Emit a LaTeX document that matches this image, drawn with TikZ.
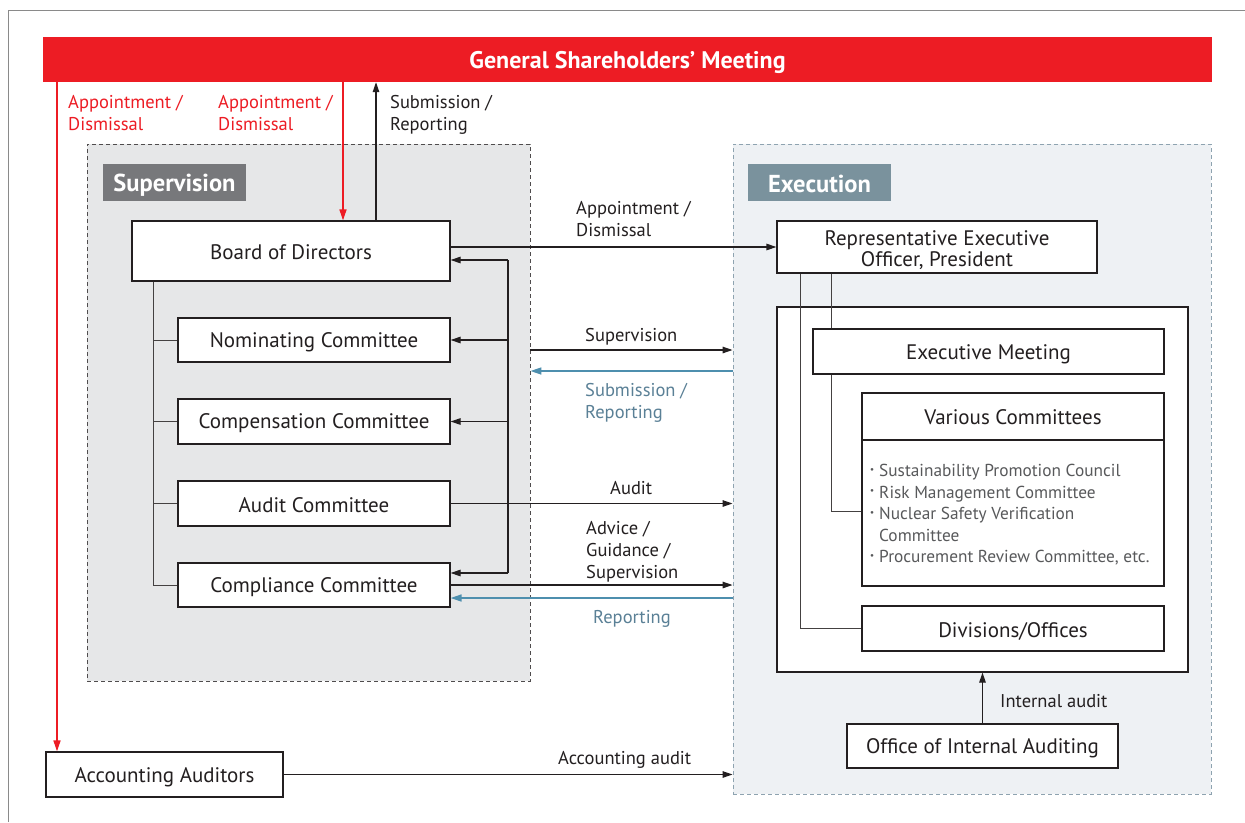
\documentclass[tikz,border=0pt]{standalone}
\usepackage{fontspec}
\setmainfont{PT Sans}
\usetikzlibrary{arrows.meta,positioning}
\definecolor{ink}{HTML}{231F20}
\definecolor{gsmred}{HTML}{ED1C24}
\definecolor{supfill}{HTML}{E6E7E8}
\definecolor{supdark}{HTML}{77787B}
\definecolor{exefill}{HTML}{EEF1F4}
\definecolor{exedark}{HTML}{7A929D}
\definecolor{exeborder}{HTML}{8EA3B0}
\definecolor{bluearr}{HTML}{4E8FAE}
\definecolor{bluetxt}{HTML}{5A8096}
\definecolor{listgray}{HTML}{58595B}
\definecolor{framegray}{HTML}{8A8A8A}
\newcommand\dnby[2]{\raisebox{-#1}[\height][\depth]{#2}}
\newcommand\bul{\makebox[10pt][l]{\raisebox{0.5pt}{\scalebox{1.3}{·}}}}
\tikzset{
  orgbox/.style={draw=ink, line width=1.2pt, fill=white, inner sep=0pt, text=ink,
     font=\fontsize{21}{21}\selectfont, align=center},
  arr/.style={draw=ink, line width=1.2pt, -{Triangle[length=10pt,width=6.5pt]}},
  barr/.style={draw=bluearr, line width=1.6pt, -{Triangle[length=11pt,width=7pt]}},
  rarr/.style={draw=gsmred, line width=1.6pt, -{Triangle[length=11pt,width=7pt]}},
  tline/.style={draw=ink!85, line width=1pt},
  lbl/.style={anchor=north west, inner sep=0pt, align=left, text=ink,
     font=\fontsize{18.5}{22}\selectfont},
  tag/.style={inner sep=0pt, text=white, font=\fontsize{24.5}{26}\selectfont\bfseries}
}
\begin{document}
\begin{tikzpicture}[x=1pt,y=-1pt]
\path[fill=white] (0,0) rectangle (1245,822);
\useasboundingbox (0,0) rectangle (1245,822);
% frame
\draw[framegray, line width=1pt] (8,822) -- (8,10) -- (1245,10);
% regions
\node[draw=ink!80, dash pattern=on 4pt off 3pt, line width=0.9pt, fill=supfill,
      minimum width=443pt, minimum height=537pt, inner sep=0pt] (SupA) at (308.5,412.5) {};
\node[draw=exeborder, dash pattern=on 4pt off 3pt, line width=0.9pt, fill=exefill,
      minimum width=478pt, minimum height=650pt, inner sep=0pt] (ExeA) at (972,469) {};
\node[tag, fill=supdark, minimum width=143pt, minimum height=37pt] (SupT) at (174.5,182.5) {\dnby{2.5pt}{Supervision}};
\node[tag, fill=exedark, minimum width=143pt, minimum height=37pt] (ExeT) at (819.5,182.5) {\dnby{1.5pt}{Execution}};
% GSM bar
\node[fill=gsmred, minimum width=1169pt, minimum height=45pt, inner sep=0pt, text=white,
      font=\fontsize{24}{26}\selectfont\bfseries] (GSM) at (627.5,59.5) {\dnby{2.5pt}{General Shareholders’ Meeting}};
% supervision boxes
\node[orgbox, minimum width=318pt, minimum height=60pt] (Board) at (291,251) {\dnby{1pt}{Board of Directors}};
\node[orgbox, minimum width=272pt, minimum height=44pt] (Nom) at (314,340) {\dnby{2pt}{Nominating Committee}};
\node[orgbox, minimum width=272pt, minimum height=45pt] (Comp) at (314,421.5) {\dnby{2pt}{Compensation Committee}};
\node[orgbox, minimum width=272pt, minimum height=45pt] (Aud) at (314,503.5) {\dnby{1.5pt}{Audit Committee}};
\node[orgbox, minimum width=272pt, minimum height=44pt] (Compl) at (314,585) {\dnby{2pt}{Compliance Committee}};
% execution boxes
\node[orgbox, minimum width=320pt, minimum height=52pt] (Rep) at (937,247) {\dnby{3pt}{\parbox{300pt}{\centering Representative Executive\\Officer, President}}};
\node[draw=ink, line width=1.2pt, fill=white, minimum width=411pt, minimum height=365pt, inner sep=0pt] (Inner) at (982.5,489.5) {};
\node[orgbox, minimum width=351pt, minimum height=45pt] (ExM) at (988.5,351.5) {\dnby{2.5pt}{Executive Meeting}};
\node[orgbox, minimum width=302pt, minimum height=193pt] (Var) at (1013,489.5) {};
\node[inner sep=0pt, text=ink, font=\fontsize{21}{21}\selectfont] (VarT) at (1013,417.5) {Various Committees};
\draw[draw=ink, line width=1.2pt] (Var.west |- 0,440) -- (Var.east |- 0,440);
\node[anchor=north west, inner sep=0pt, align=left, text=listgray,
      font=\fontsize{17.3}{21.5}\selectfont] (VarL) at (869,464)
  {\bul Sustainability Promotion Council\\
   \bul Risk Management Committee\\
   \bul Nuclear Safety Verification\\
   \hspace*{10pt}Committee\\
   \bul Procurement Review Committee, etc.};
\node[orgbox, minimum width=302pt, minimum height=45pt] (Div) at (1013,628.5) {\dnby{2.5pt}{Divisions/Offices}};
\node[orgbox, minimum width=271pt, minimum height=44pt] (OIA) at (982.5,746) {\dnby{2pt}{Office of Internal Auditing}};
\node[orgbox, minimum width=237pt, minimum height=45pt] (Acc) at (164.5,774.5) {\dnby{2.5pt}{Accounting Auditors}};
% coordinates
\coordinate (brT) at (508,260);
\coordinate (brB) at (508,573);
\coordinate (tl) at (153,0);
\coordinate (ySup) at (0,350);
\coordinate (ySub) at (0,371);
% GSM connectors
\draw[rarr] ([xshift=-107.5pt]Acc.north |- GSM.south) -- ([xshift=-107.5pt]Acc.north);
\draw[rarr] ([xshift=52pt]Board.north |- GSM.south) -- ([xshift=52pt]Board.north);
\draw[arr] ([xshift=85pt]Board.north) -- ([xshift=85pt]Board.north |- GSM.south);
% board tree
\draw[tline] (Board.south -| tl) |- (Compl.west);
\draw[tline] (Nom.west -| tl) -- (Nom.west);
\draw[tline] (Comp.west -| tl) -- (Comp.west);
\draw[tline] (Aud.west -| tl) -- (Aud.west);
% bracket
\draw[draw=ink, line width=1.2pt] (brT) -- (brB);
\draw[arr] (brT) -- (brT -| Board.east);
\draw[arr] (Nom.east -| brT) -- (Nom.east);
\draw[arr] (Comp.east -| brT) -- (Comp.east);
\draw[arr] (brB) -- (brB -| Compl.east);
% cross arrows
\draw[arr] (Rep.west -| Board.east) -- (Rep.west);
\draw[arr] (SupA.east |- ySup) -- (ExeA.west |- ySup);
\draw[barr] (ExeA.west |- ySub) -- (SupA.east |- ySub);
\draw[arr] (Aud.east) -- (Aud.east -| ExeA.west);
\draw[arr] (Compl.east) -- (Compl.east -| ExeA.west);
\draw[barr] ([yshift=-13pt]Compl.east -| ExeA.west) -- ([yshift=-13pt]Compl.east);
\draw[arr] (Acc.east) -- (Acc.east -| ExeA.west);
% execution tree
\draw[tline] ([xshift=-137pt]Rep.south) |- (Div.west);
\draw[tline] ([xshift=-106pt]Rep.south) -- ([xshift=-106pt]Rep.south |- ExM.north);
\draw[tline] ([xshift=-106pt]Rep.south |- ExM.south) |- ([yshift=-21.5pt]Var.west);
\draw[arr] (OIA.north) -- (OIA.north |- Inner.south);
% labels
\node[lbl, text=gsmred] (L1) at (68,95) {Appointment /\\Dismissal};
\node[lbl, text=gsmred] (L2) at (218,95) {Appointment /\\Dismissal};
\node[lbl] (L3) at (390,95) {Submission /\\Reporting};
\node[lbl] (L4) at (576,201) {Appointment /\\Dismissal};
\node[lbl] (L5) at (585,328) {Supervision};
\node[lbl, text=bluetxt] (L6) at (585,383) {Submission /\\Reporting};
\node[lbl] (L7) at (610,481) {Audit};
\node[lbl] (L8) at (586,521) {Advice /\\Guidance /\\Supervision};
\node[lbl, text=bluetxt] (L9) at (593,610) {Reporting};
\node[lbl] (L10) at (558,751) {Accounting audit};
\node[lbl] (L11) at (1000,694) {Internal audit};
\end{tikzpicture}
\end{document}
